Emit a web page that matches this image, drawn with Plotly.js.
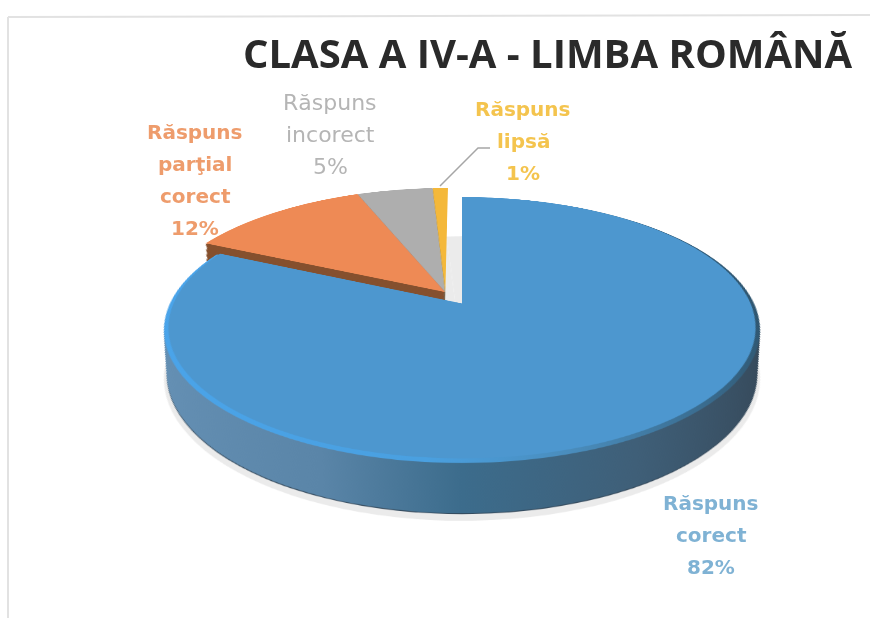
<!DOCTYPE html>
<html>
<head>
<meta charset="utf-8">
<script src="https://cdn.plot.ly/plotly-3.0.1.min.js"></script>
<style>
html,body{margin:0;padding:0;background:#fff;width:870px;height:618px;overflow:hidden}
#pie{position:absolute;width:800px;height:800px;left:62px;top:-95px;transform-origin:50% 50%;transform:perspective(1400px) rotateX(64deg);filter:blur(0.7px)}
#chart{position:absolute;left:0;top:0;width:870px;height:618px;filter:blur(0.4px)}
</style>
</head>
<body>
<div id="pie"></div>
<div id="chart"></div>
<script>
// Data
const categories = ["Răspuns corect", "Răspuns parţial corect", "Răspuns incorect", "Răspuns lipsă"];
const values = [82, 12, 5, 1];
const labelLines = [["Răspuns", "corect"], ["Răspuns", "parţial", "corect"], ["Răspuns", "incorect"], ["Răspuns", "lipsă"]];
const titleText = "CLASA A IV-A - LIMBA ROMÂNĂ";

// Styling
const faceColors = ["#4d97cf", "#ee8a55", "#aeaeae", "#f4b83a"];
const wallColors = ["#4f7da0", "#85502e", "#6f6f6f", "#a07a20"];
const textColors = ["#7fb2d4", "#ee9c6c", "#b5b5b5", "#f4c44e"];
const none = "rgba(0,0,0,0)";

const S = 800, R = 292.7;
function layer(dx, dv, r, colors) {
  const cx = S / 2 + dx, cy = S / 2 + dv;
  return {
    type: "pie", labels: categories, values: values, sort: false, direction: "clockwise", rotation: 0,
    textinfo: "none", hoverinfo: "skip", showlegend: false,
    marker: {colors: colors, line: {width: 0}},
    domain: {x: [(cx - r) / S, (cx + r) / S], y: [1 - (cy + r) / S, 1 - (cy - r) / S]}
  };
}
const traces = [], gradientTraces = [];
// soft shadow under the pie
traces.push(layer(0, 100, 274, values.map(() => "#ebebeb")));
// exploded group (orange, grey, yellow) shift
const gx = -17, gv = -30, depthV = 91, depthR = 19.7, steps = 30;
const groupWall = wallColors.map((c, i) => i === 0 ? none : c);
const groupFace = faceColors.map((c, i) => i === 0 ? none : c);
const mainWall = wallColors.map((c, i) => i === 0 ? c : none);
const mainFace = faceColors.map((c, i) => i === 0 ? c : none);
for (let i = steps; i >= 1; i--) {
  const t = i / steps;
  traces.push(layer(gx, gv + depthV * t, R - depthR * t, groupWall));
}
traces.push(layer(gx, gv, R, groupFace));
// main slice: edge, wall, rim, face
traces.push(layer(0, depthV + 1.2, R - depthR, mainWall.map(c => c === none ? none : "#33485a")));
for (let i = steps; i >= 1; i--) {
  const t = i / steps;
  gradientTraces.push(traces.length);
  traces.push(layer(0, depthV * t, R - depthR * t, mainWall));
}
const rimIndex = traces.length;
traces.push(layer(0, 0, R, mainFace));
traces.push(layer(0, -3.5, R - 3.5, mainFace));

Plotly.newPlot("pie", traces, {
  width: S, height: S, margin: {l: 0, r: 0, t: 0, b: 0},
  paper_bgcolor: none, plot_bgcolor: none, showlegend: false
}, {staticPlot: true, displayModeBar: false}).then(function (gd) {
  const svg = gd.querySelector(".main-svg");
  const ns = "http://www.w3.org/2000/svg";
  const defs = document.createElementNS(ns, "defs");
  function grad(id, stops) {
    const g = document.createElementNS(ns, "linearGradient");
    g.setAttribute("id", id);
    g.setAttribute("x1", "0"); g.setAttribute("x2", "1"); g.setAttribute("y1", "0"); g.setAttribute("y2", "0");
    stops.forEach(s => {
      const e = document.createElementNS(ns, "stop");
      e.setAttribute("offset", s[0]); e.setAttribute("stop-color", s[1]);
      g.appendChild(e);
    });
    defs.appendChild(g);
  }
  grad("wallGrad", [[0, "#6590b4"], [0.3, "#5a85a8"], [0.5, "#3c6c8c"], [0.75, "#3f5f78"], [1, "#36495a"]]);
  grad("rimGrad", [[0, "#4aa4ea"], [0.45, "#4aa0e0"], [0.65, "#4a8dbd"], [1, "#2f5670"]]);
  svg.insertBefore(defs, svg.firstChild);
  const groups = gd.querySelectorAll(".pielayer .trace");
  gradientTraces.forEach(i => {
    const p = groups[i] && groups[i].querySelector(".slice path.surface");
    if (p) p.style.fill = "url(#wallGrad)";
  });
  const rp = groups[rimIndex] && groups[rimIndex].querySelector(".slice path.surface");
  if (rp) rp.style.fill = "url(#rimGrad)";
});

// Text layer
const labelCentres = [[711, 503], [195, 132], [330, 102], [523, 109]];
const lineGap = 32;
const annotations = [];
const W = 870, H = 618;
categories.forEach(function (c, i) {
  const lines = labelLines[i].concat([values[i] + "%"]);
  lines.forEach(function (txt, j) {
    annotations.push({
      xref: "paper", yref: "paper", x: labelCentres[i][0] / W, y: 1 - (labelCentres[i][1] + j * lineGap) / H,
      text: i === 2 ? txt : "<b>" + txt + "</b>", showarrow: false, xanchor: "center", yanchor: "middle",
      font: {family: "DejaVu Sans, sans-serif", size: i === 2 ? 22 : 20, color: textColors[i]}
    });
  });
});
annotations.push({
  xref: "paper", yref: "paper", x: 548 / W, y: 1 - 52 / H, text: "<b>" + titleText + "</b>", showarrow: false,
  xanchor: "center", yanchor: "middle", font: {family: "Open Sans, sans-serif", size: 40, color: "#2a2a2a"}
});
const shapes = [
  {type: "path", xref: "paper", yref: "paper",
   path: "M " + 490 / W + " " + (1 - 148 / H) + " L " + 478 / W + " " + (1 - 148 / H) + " L " + 440 / W + " " + (1 - 186 / H),
   line: {color: "#a6a6a6", width: 1.5}},
  {type: "line", xref: "paper", yref: "paper", x0: 8 / W, x1: 1, y0: 1 - 17 / H, y1: 1 - 15 / H, line: {color: "#e2e2e2", width: 2}},
  {type: "line", xref: "paper", yref: "paper", x0: 8 / W, x1: 8 / W, y0: 1 - 17 / H, y1: 0, line: {color: "#e2e2e2", width: 2}}
];
Plotly.newPlot("chart", [], {
  width: W, height: H, margin: {l: 0, r: 0, t: 0, b: 0},
  paper_bgcolor: none, plot_bgcolor: none,
  xaxis: {visible: false}, yaxis: {visible: false},
  annotations: annotations, shapes: shapes
}, {staticPlot: true, displayModeBar: false});
</script>
</body>
</html>
